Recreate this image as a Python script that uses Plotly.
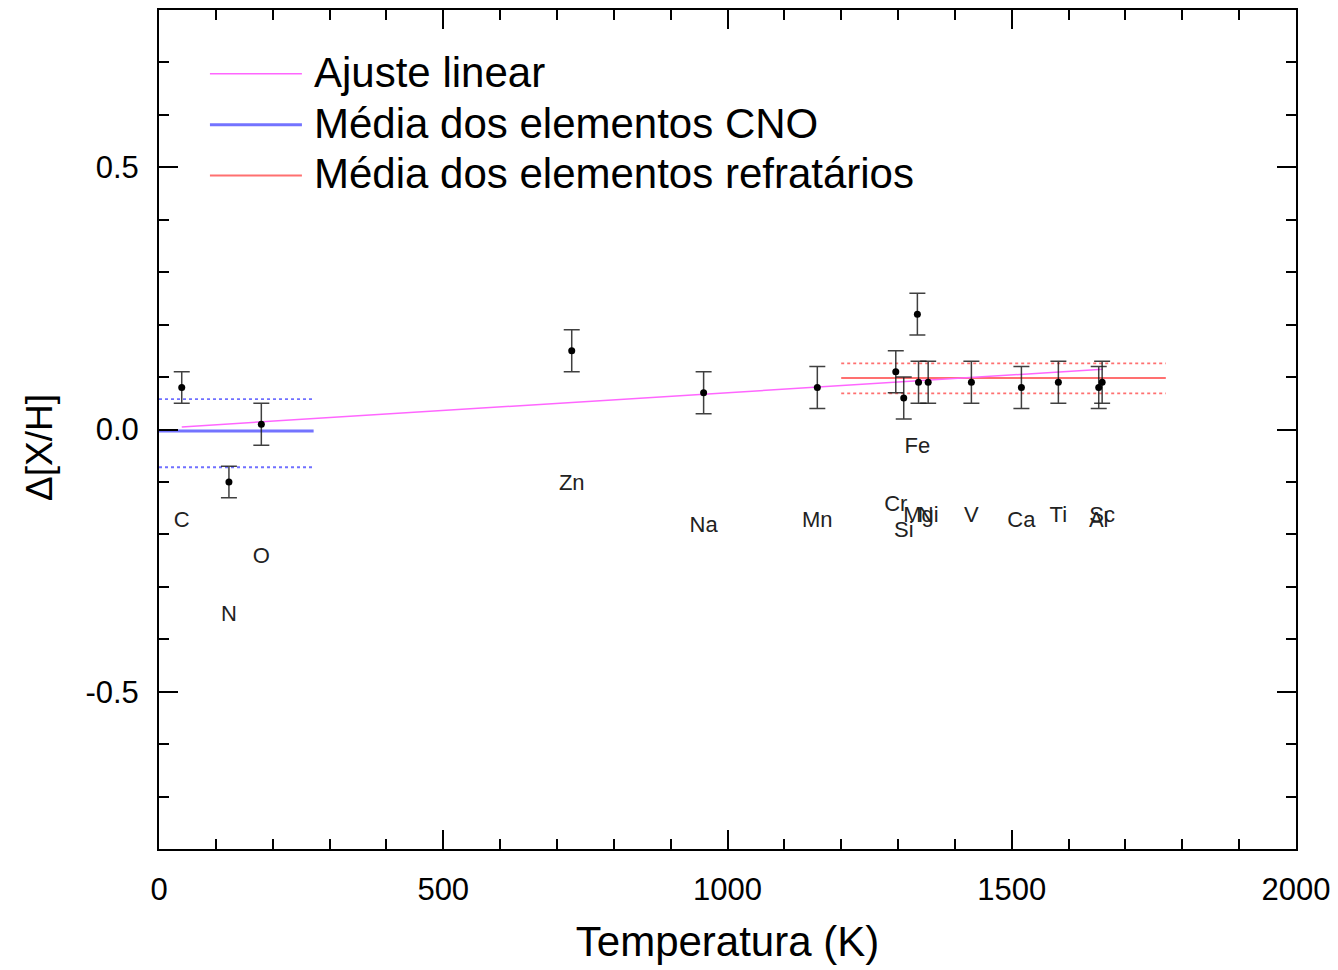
import plotly.graph_objects as go

# ---- data ----
elements = ["C", "N", "O", "Zn", "Na", "Mn", "Cr", "Si", "Fe", "Mg", "Ni", "V", "Ca", "Ti", "Al", "Sc"]
tc_K = [40, 123, 180, 726, 958, 1158, 1296, 1310, 1334, 1336, 1353, 1429, 1517, 1582, 1653, 1659]
delta_xh = [0.08, -0.10, 0.01, 0.15, 0.07, 0.08, 0.11, 0.06, 0.22, 0.09, 0.09, 0.09, 0.08, 0.09, 0.08, 0.09]
err = [0.03, 0.03, 0.04, 0.04, 0.04, 0.04, 0.04, 0.04, 0.04, 0.04, 0.04, 0.04, 0.04, 0.04, 0.04, 0.04]

fit_x = [40, 1660]
fit_y = [0.005, 0.115]

cno_x = [0, 272]
cno_mean = -0.003
cno_upper = 0.058
cno_lower = -0.072

ref_x = [1200, 1771]
ref_mean = 0.098
ref_upper = 0.126
ref_lower = 0.069

label_offset = 0.255

legend_names = ["Ajuste linear", "Média dos elementos CNO", "Média dos elementos refratários"]

FONT = "Liberation Sans, Arial, Helvetica, sans-serif"
MAGENTA = "#ff66ff"
BLUE = "rgba(90,90,255,0.85)"
RED = "#ff7070"

fig = go.Figure()

# dotted bands
for xs, yv, col in [(cno_x, cno_upper, "#7070ff"), (cno_x, cno_lower, "#7070ff"),
                    (ref_x, ref_upper, "#ff7070"), (ref_x, ref_lower, "#ff7070")]:
    fig.add_trace(go.Scatter(x=xs, y=[yv] * 2, mode="lines",
                             line=dict(color=col, width=1.8, dash="dot"), showlegend=False, hoverinfo="skip"))

# means
fig.add_trace(go.Scatter(x=cno_x, y=[cno_mean] * 2, mode="lines", name=legend_names[1],
                         line=dict(color=BLUE, width=3), showlegend=False))
fig.add_trace(go.Scatter(x=ref_x, y=[ref_mean] * 2, mode="lines", name=legend_names[2],
                         line=dict(color=RED, width=2), showlegend=False))

# linear fit
fig.add_trace(go.Scatter(x=fit_x, y=fit_y, mode="lines", name=legend_names[0],
                         line=dict(color=MAGENTA, width=1.5), showlegend=False))

# data points
fig.add_trace(go.Scatter(
    x=tc_K, y=delta_xh, mode="markers",
    marker=dict(color="black", size=7),
    error_y=dict(type="data", array=err, visible=True, color="rgba(30,30,30,0.85)", thickness=1.5, width=8),
    showlegend=False))

# element labels
fig.add_trace(go.Scatter(
    x=tc_K, y=[v - label_offset for v in delta_xh], mode="text", text=elements,
    textfont=dict(family=FONT, size=22, color="#222222"), textposition="middle center",
    showlegend=False, hoverinfo="skip"))

# manual legend
leg_colors = [MAGENTA, BLUE, RED]
leg_widths = [1.5, 3, 2]
leg_rows = [0.9239, 0.8633, 0.8026]
for name, c, w, yy in zip(legend_names, leg_colors, leg_widths, leg_rows):
    fig.add_shape(type="line", xref="paper", yref="paper", x0=0.0448, x1=0.1257, y0=yy, y1=yy,
                  line=dict(color=c, width=w))
    fig.add_annotation(xref="paper", yref="paper", x=0.1345, y=yy + 0.002, text=name, showarrow=False,
                       xanchor="left", yanchor="middle", font=dict(family=FONT, size=42, color="black"))

# y axis title
fig.add_annotation(xref="paper", yref="paper", x=-0.1046, y=0.478, text="Δ[X/H]", showarrow=False,
                   textangle=-90, xanchor="center", yanchor="middle",
                   font=dict(family=FONT, size=37, color="black"))

axis_common = dict(showline=True, linecolor="black", linewidth=2, mirror="allticks",
                   ticks="inside", ticklen=19, tickwidth=2, tickcolor="black",
                   showgrid=False, zeroline=False,
                   tickfont=dict(family=FONT, size=31, color="black"))

fig.update_xaxes(range=[0, 2000], dtick=500, tick0=0,
                 minor=dict(ticks="inside", dtick=100, ticklen=10, tickwidth=2, tickcolor="black"),
                 title=dict(text="Temperatura (K)", font=dict(family=FONT, size=42, color="black"), standoff=20),
                 ticklabelstandoff=12,
                 **axis_common)
fig.update_yaxes(range=[-0.8, 0.8], tickvals=[-0.5, 0.0, 0.5], ticktext=["-0.5", "0.0", "0.5"],
                 minor=dict(ticks="inside", tickvals=[-0.7, -0.6, -0.4, -0.3, -0.2, -0.1, 0.1, 0.2, 0.3, 0.4, 0.6, 0.7],
                            ticklen=10, tickwidth=2, tickcolor="black"),
                 ticklabelstandoff=12,
                 **axis_common)

fig.update_layout(width=1338, height=970, margin=dict(l=159, r=41, t=8, b=121),
                  plot_bgcolor="white", paper_bgcolor="white", showlegend=False)

fig.write_html("out.html")
